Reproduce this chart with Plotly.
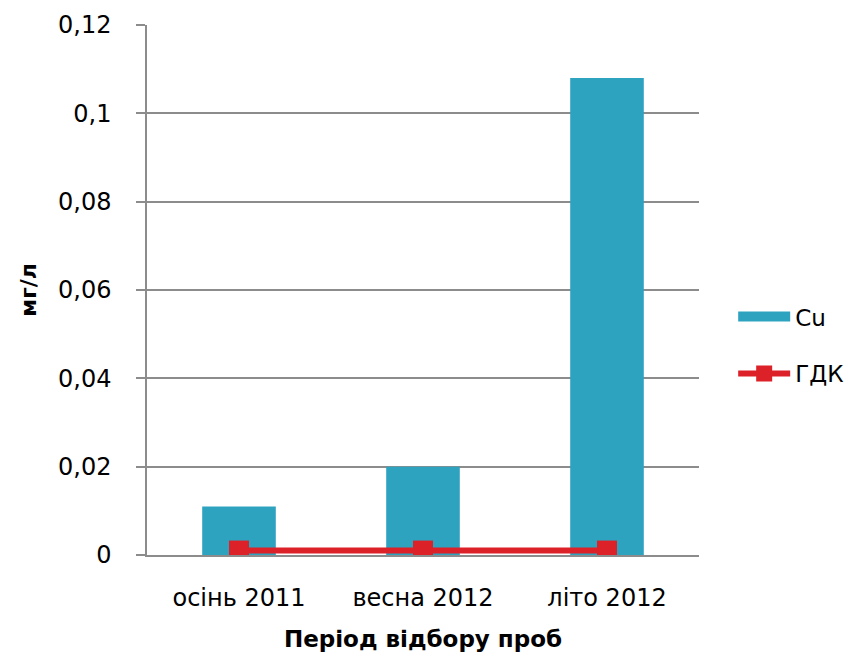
import plotly.graph_objects as go

categories = ["осінь 2011", "весна 2012", "літо 2012"]
cu_values = [0.011, 0.020, 0.108]
gdk_values = [0.001, 0.001, 0.001]
y_tick_vals = [0, 0.02, 0.04, 0.06, 0.08, 0.1, 0.12]
y_tick_text = ["0", "0,02", "0,04", "0,06", "0,08", "0,1", "0,12"]

FONT = "DejaVu Sans"
GRID = "#8c8c8c"
BAR = "#2EA3BF"
RED = "#DC2128"

fig = go.Figure()
fig.add_trace(go.Bar(
    x=categories, y=cu_values, name="Cu",
    marker=dict(color=BAR, line=dict(width=0)),
    width=0.4, showlegend=False,
))
# legend entry for Cu drawn as a wide rectangle
fig.add_trace(go.Scatter(
    x=[None], y=[None], name="Cu", mode="lines",
    line=dict(color=BAR, width=19),
    legendgroup="a",
))
fig.add_trace(go.Scatter(
    x=categories, y=gdk_values, name="ГДК", mode="lines+markers",
    line=dict(color=RED, width=6),
    marker=dict(symbol="square", size=20, color=RED),
    legendgroup="b",
))

fig.update_layout(
    width=852, height=660,
    margin=dict(l=139, r=160, t=17, b=113),
    plot_bgcolor="white", paper_bgcolor="white",
    font=dict(family=FONT, size=24, color="black"),
    showlegend=True,
    legend=dict(x=1.06, y=0.396, xanchor="left", yanchor="middle",
                font=dict(size=23), traceorder="grouped",
                tracegroupgap=24, itemwidth=52),
    bargap=0.6,
)
fig.update_xaxes(
    showline=True, linecolor=GRID, linewidth=1.5,
    ticks="", showgrid=False, automargin=False,
    ticklabelstandoff=20,
    title=dict(text="<b>Період відбору проб</b>", font=dict(size=23), standoff=20),
    tickfont=dict(size=24),
)
fig.update_yaxes(
    range=[0, 0.12], tickvals=y_tick_vals, ticktext=y_tick_text,
    showline=True, linecolor=GRID, linewidth=1.5,
    showgrid=True, gridcolor=GRID, gridwidth=1.5,
    ticks="outside", ticklen=9, tickcolor=GRID, tickwidth=1.5,
    zeroline=False, automargin=False,
    ticklabelstandoff=20,
    title=dict(text="<b>мг/л</b>", font=dict(size=22), standoff=15),
    tickfont=dict(size=24),
)

fig.write_html("out.html")
